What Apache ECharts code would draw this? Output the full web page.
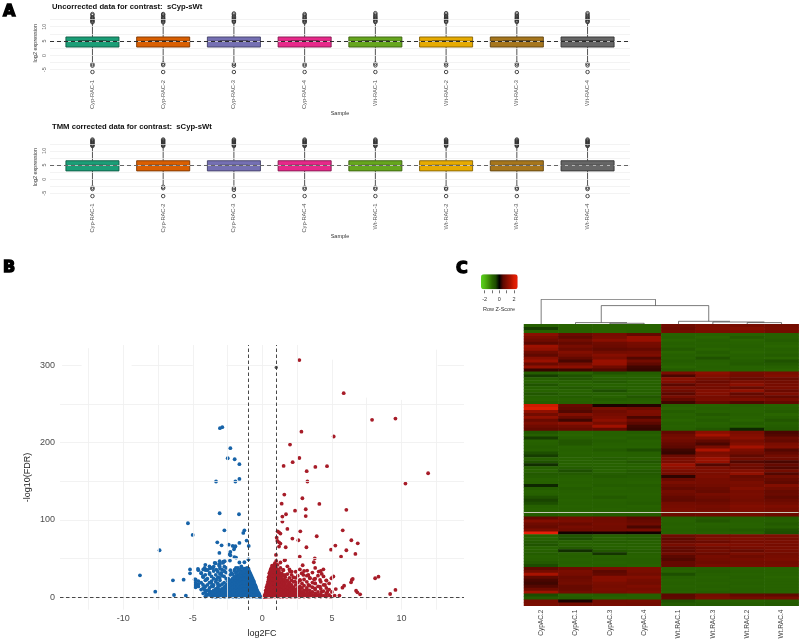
<!DOCTYPE html>
<html><head><meta charset="utf-8">
<style>html,body{margin:0;padding:0;background:#fff}#c{width:800px;height:639px}</style>
<script src="https://cdn.jsdelivr.net/npm/echarts@6/dist/echarts.min.js"></script>
</head><body><div id="c"></div>
<script>
var sampleLabels=['Cyp-RAC-1','Cyp-RAC-2','Cyp-RAC-3','Cyp-RAC-4','Wt-RAC-1','Wt-RAC-2','Wt-RAC-3','Wt-RAC-4'];
var sampleColors=['#1B9E77','#D95F02','#7570B3','#E7298A','#66A61E','#E6AB02','#A6761D','#666666'];
var sampleBorders=['#0e5a44','#7a3501','#423f66','#82174e','#39600f','#826001','#5d4210','#333333'];
// [low whisker, q1, median, q3, high whisker]
var boxesRaw=[[-2.7,2.9,4.95,6.4,11.4],[-2.6,2.9,4.95,6.4,11.4],[-2.7,2.9,4.95,6.4,11.5],[-2.7,2.9,4.95,6.4,11.4],[-2.6,2.9,4.95,6.4,11.4],[-2.6,2.9,4.95,6.4,11.4],[-2.6,2.9,4.95,6.4,11.5],[-2.6,2.9,4.95,6.4,11.4]];
var boxesTmm=[[-2.2,2.9,4.85,6.5,11.6],[-2.0,2.9,4.85,6.5,11.6],[-2.3,2.9,4.85,6.5,11.6],[-2.2,2.9,4.85,6.5,11.6],[-2.2,2.9,4.85,6.5,11.6],[-2.2,2.9,4.85,6.5,11.6],[-2.2,2.9,4.85,6.5,11.6],[-2.2,2.9,4.85,6.5,11.6]];
var outRaw=[
[11.5,11.8,12.1,12.4,12.7,13,13.3,14,14.4,-3.1,-3.6,-5.8],
[11.5,11.8,12.1,12.4,12.8,13.1,13.6,14.1,14.4,-2.9,-3.4,-5.8],
[11.6,11.9,12.2,12.5,12.8,13.2,13.6,14.2,14.6,-3.0,-3.6,-5.8],
[11.5,11.8,12.1,12.4,12.8,13.1,13.5,14,14.4,-3.1,-3.6,-5.8],
[11.6,11.9,12.2,12.6,12.9,13.3,13.7,14.2,14.7,-2.9,-3.5,-5.8],
[11.6,11.9,12.2,12.6,12.9,13.3,13.7,14.2,14.7,-2.9,-3.5,-5.8],
[11.6,11.9,12.2,12.6,12.9,13.3,13.7,14.2,14.7,-2.9,-3.5,-5.8],
[11.6,11.9,12.2,12.6,12.9,13.3,13.7,14.2,14.7,-2.9,-3.5,-5.8]];
var outTmm=[
[11.7,12,12.2,12.5,12.8,13.1,13.4,13.7,14,-3.0,-3.5,-6],
[11.7,12,12.2,12.5,12.8,13.1,13.4,13.7,14,-2.7,-3.2,-6],
[11.7,12,12.2,12.5,12.8,13.1,13.4,13.7,14,-3.2,-3.8,-6],
[11.7,12,12.2,12.5,12.8,13.1,13.4,13.7,14,-3.0,-3.5,-6],
[11.7,12,12.2,12.5,12.8,13.1,13.4,13.7,14,-3.0,-3.5,-6],
[11.7,12,12.2,12.5,12.8,13.1,13.4,13.7,14,-3.0,-3.5,-6],
[11.7,12,12.2,12.5,12.8,13.1,13.4,13.7,14,-3.0,-3.5,-6],
[11.7,12,12.2,12.5,12.8,13.1,13.4,13.7,14,-3.0,-3.5,-6]];
var boxYLabels=[-5,0,5,10];
var boxYLines=[-5,-2.5,0,2.5,5,7.5,10,12.5];

// Volcano: dense zone as [x,[y...]] columns
var blueColumns=[
[-0.12,[0.5]],[-0.2,[1,3]],[-0.3,[1,4,6]],[-0.4,[1,4,8,10]],[-0.5,[1,5,9,13,15]],[-0.6,[2,6,10,14,18,20]],[-0.7,[1,5,9,13,17,21,24]],[-0.8,[2,6,10,14,18,22,26,28]],[-0.9,[1,5,9,13,17,21,25,29,32]],[-1.0,[2,6,10,14,18,22,26,30,34,37]],[-1.1,[1,5,9,13,17,21,25,29,33,36,38]],[-1.2,[2,6,10,14,18,22,26,30,35,37]],[-1.3,[1,5,9,13,17,22,27,32,37]],
[-1.4,[2,6,11,15,20,25,30,34]],[-1.5,[1,4,8,13,18,23,28,33,38]],[-1.6,[3,7,11,16,21,26,30,35]],[-1.7,[1,5,10,14,19,24,29,36]],[-1.8,[3,8,12,17,22,27,33]],[-1.9,[1,5,10,15,20,25,31,38]],[-2.0,[3,7,12,17,22,27,34]],[-2.15,[1,5,10,15,20,24,30]],[-2.3,[3,7,12,17,22,29,35]],[-2.45,[1,5,9,14,18,24]],[-2.6,[3,7,11,16,24,32,38]],[-2.75,[1,5,9,13,19,27,34]],[-2.9,[3,7,11,17,28,36]],[-3.05,[1,5,9,15,22,30,37]],[-3.2,[3,8,13,18,26,33]],[-3.35,[1,6,11,20,29]],[-3.5,[4,9,16,24,34]],[-3.65,[2,7,14,21,27,38]],[-3.8,[5,12,19,30,40]],[-3.95,[3,9,16,24,35]],[-4.1,[1,7,14,22,29,42]],[-4.25,[5,12,26,36]],[-4.4,[10,19,31]],[-4.6,[14,17,21,35]],[-4.8,[13,16,19,23]]];
var blueFill=[
[-0.25,[2,5]],[-0.35,[2,6,8]],[-0.45,[3,7,11,13]],[-0.55,[3,7,11,15,17]],[-0.65,[3,7,11,15,19,22]],[-0.75,[3,7,11,15,19,23,26]],[-0.85,[3,7,11,15,19,23,27,30]],[-0.95,[3,7,11,15,19,23,27,31,34]],[-1.05,[3,7,11,15,19,23,27,31,35]],[-1.15,[3,7,11,15,19,23,27,31,35]],[-1.25,[3,7,11,15,19,24,29,34]],[-1.35,[3,7,11,15,19,24,29,33]],[-1.45,[3,7,11,15,20,25,30]],[-1.55,[3,6,10,14,19,24,28,32]],[-1.65,[1,5,9,13,18,23,28]],[-1.75,[3,7,12,17,21,26]],[-1.85,[1,5,10,14,19,24]],[-1.95,[3,8,12,17,23]],[-2.07,[1,5,9,14,19,25]],[-2.22,[3,7,12,17,22]],[-2.37,[1,5,10,15,20]],[-2.52,[3,7,11,16]],[-2.67,[1,5,9,14]],[-2.82,[3,7,11]],[-2.97,[1,5,9]],[-3.12,[3,6,10]],[-3.28,[1,5,9]],[-3.43,[3,7]],[-3.6,[1,5]],[-3.75,[3]]];
var redColumns=[
[0.1,[0.5]],[0.15,[2]],[0.2,[1,4]],[0.25,[2,6,9]],[0.3,[1,5,9,13]],[0.35,[2,7,12,16]],[0.4,[1,5,10,15,20]],[0.45,[3,8,13,18,23,26]],[0.5,[1,6,11,16,21,26,31]],[0.55,[3,8,13,18,23,28,33]],[0.6,[1,6,11,16,21,26,31,36]],[0.65,[3,8,13,18,23,28,33,38]],[0.7,[1,6,11,16,21,26,31,36,41]],[0.8,[3,8,13,18,23,28,33,38,41]],[0.9,[1,6,11,16,21,26,31,36,40,44]],[1.0,[3,8,13,18,23,28,33,37,42,47]],[1.1,[1,5,10,15,20,25,30,36,42]],[1.2,[3,8,13,18,23,28,34]],[1.3,[1,5,10,15,21,27,38,45]],[1.4,[3,8,13,18,24,31]],[1.5,[1,5,10,15,21,28,35]],[1.65,[3,8,13,19,26]],[1.8,[1,5,10,15,22,30,40]],[1.95,[3,8,13,19,25,36]],[2.1,[1,5,10,16,22,29]],[2.25,[3,8,13,20]],[2.4,[1,5,10,16,25,33]],[2.55,[3,7,12,19,28]],[2.7,[1,5,9,14,22,36]],[2.85,[3,7,12,18,31]],[3.0,[1,5,9,15,23,34]],[3.2,[3,7,12,20,28]],[3.4,[1,5,9,15,25]],[3.6,[3,7,13,19,32]],[3.8,[1,5,10,18,24,38]],[4.0,[3,7,14,28]],[4.2,[1,4,11,20,34]],[4.4,[2,8,16,27]],[4.6,[1,5,12,22]],[4.8,[3,10,18]],[5.0,[1,7]],[5.2,[2]]];
var redFill=[
[0.17,[1]],[0.22,[2]],[0.27,[1,4,7]],[0.32,[3,7,11]],[0.37,[4,9,14]],[0.42,[3,7,12,17]],[0.47,[5,10,15,20,24]],[0.52,[3,8,13,18,23,28]],[0.57,[5,10,15,20,25,30]],[0.62,[3,8,13,18,23,28,33]],[0.67,[5,10,15,20,25,30,35]],[0.75,[3,8,13,18,23,28,33,38]],[0.85,[3,8,13,18,23,28,33,38]],[0.95,[5,10,15,20,25,30,35]],[1.05,[3,6,12,17,22,27,32]],[1.15,[3,6,11,16,21,26]],[1.25,[1,5,10,15,20,25]],[1.35,[3,7,11,16,22]],[1.45,[1,5,10,14,19]],[1.57,[3,7,12,17,23]],[1.72,[1,5,9,14,20]],[1.87,[3,7,12,17]],[2.02,[1,5,10,15]],[2.17,[3,7,12]],[2.32,[1,5,10]],[2.47,[3,7]],[2.62,[1,5]],[2.8,[3]],[3.1,[3]],[3.3,[1,5]],[3.5,[3]],[3.9,[2]]];
var blueSparse=[[-2.88,219.8],[-3.05,218.5],[-2.3,192.7],[-2.49,179.7],[-1.99,178.4],[-1.65,172],[-1.65,153],[-1.94,149.6],[-3.33,149.6],[-3.07,108.6],[-1.68,107.3],[-5.35,95.7],[-5.01,80.6],[-2.73,86.6],[-1.29,86.6],[-1.37,83.2],[-1.13,73.3],[-3.24,71],[-2.42,68],[-1.65,70.3],[-2.93,67.2],[-2.13,66.4],[-1.94,66],[-2.04,62],[-1.99,64.7],[-0.98,66.4],[-7.39,60.8],[-3.09,57.3],[-2.3,58.6],[-2.35,55.6],[-2.3,54.3],[-2.01,52],[-1.89,51.3],[-1,49],[-2.33,47.4],[-2.81,46.1],[-3.05,43.5],[-3.36,44],[-3.12,41.8],[-3.5,39.7],[-3.77,37.5],[-4.1,35.3],[-4.63,36.6],[-5.2,36],[-5.2,31],[-8.8,28.4],[-7.7,7.3],[-6.43,22],[-5.66,22.8],[-6.35,3],[-5.5,2],[-2.73,39.7],[-1.65,45],[-1.29,45.3],[-4.15,38],[-4.87,23],[-4.75,14],[-4.0,4],[-3.4,1],
[-4.27,27.2],[-4.03,22.8],[-3.79,31.5],[-3.55,37.9],[-3.31,35.8],[-3.07,40],[-2.83,44.4],[-2.71,46.6],[-3.07,46.6],[-3.43,44.4],[-3.67,18.5],[-3.55,14],[-3.31,22.8],[-3.07,25],[-2.95,31.5],[-2.71,33.6],[-2.47,20.7],[-2.23,31.5],[-1.99,35.8],[-1.75,38],[-1.51,40],[-1.27,33.6],[-3.19,16.3],[-3.79,7.8],[-4.15,10],[-4.27,16.3],[-4.39,31.5],[-4.03,35.8]];
var redSparse=[[2.66,306.5],[5.85,263.8],[7.89,229.3],[9.57,231],[2.81,214],[5.13,207.8],[1.99,197.4],[2.66,180],[2.18,174.6],[1.53,169.8],[3.81,168.5],[4.65,169.4],[3.19,163],[11.92,160.3],[3.24,149.6],[10.29,147],[1.58,132.8],[2.88,128],[1.39,121],[4.1,120.7],[3.12,113.8],[2.35,112],[6.04,113],[1.7,107.3],[1.44,104.3],[3.12,105],[1.44,97.8],[1.8,88.4],[2.73,85.3],[5.78,86.6],[1.1,85.3],[1.2,84],[1.3,82.3],[1.03,77],[3.91,78.9],[2.16,75.9],[2.59,73.7],[6.4,73.7],[6.86,69.8],[1.08,72.8],[1.2,71],[1.3,69.4],[1.2,65.5],[1.68,64.7],[3.17,64.7],[5.25,66.8],[4.94,61.6],[6.04,60.8],[6.69,56],[5.66,52.6],[2.69,52.6],[0.98,54.7],[3.77,50.4],[1.63,48.3],[1.6,47.9],[3.7,45.3],[2.9,41.4],[4.05,33.2],[4.39,36.2],[3.22,34.5],[4.27,30.2],[8.35,26.7],[8.11,24.6],[5.11,27],[4.97,24.6],[4.6,21.6],[6.43,22.4],[6.5,23.7],[6.38,19.4],[5.88,15],[5.76,12.5],[5.28,10.7],[9.57,9.5],[9.19,4.3],[6.74,8.6],[6.83,6.5],[7.03,3.9],[5.54,2.2],
[1.51,35.3],[1.99,33.2],[2.11,33.2],[1.27,31],[1.63,28.9],[2.23,25.9],[2.95,28.9],[2.83,31],[3.31,28.9],[3.43,24.6],[2.71,22.4],[2.35,20.3],[3.72,23.3],[4.15,22.4],[3.79,18.1],[4.15,13.8],[4.51,15.9],[4.27,7.3],[4.68,7.3],[3.79,11.6],[3.31,15.9],[2.71,11.6],[3.19,9.5],[4.87,0.9],[3.79,2.2],[4.03,2.2],[3.43,1.7]];
var greyMark=[[1,297]];
var volXLabels=[-10,-5,0,5,10];
var volYLabels=[0,100,200,300];
var volYLines=[0,50,100,150,200,250];
var volXLines=[-12.5,-10,-7.5,-5,-2.5,0,2.5,5,7.5,10,12.5];
// top of each vertical grid line in data units (parts of the grid are washed out in the picture)
var volXTops=[322,326,326,326,326,326,326,307,258,255,320];
// surviving pieces of the washed-out 300 line
var vol300Pieces=[[-14.4,-13],[-9.4,-5],[-2.6,1.2],[12.6,14.5]];

var heatCols=['CypAC.2','CypAC.1','CypAC.3','CypAC.4','Wt.RAC.1','Wt.RAC.3','Wt.RAC.2','Wt.RAC.4'];
var heatRows=[
[-.85,-.9,-.9,-.9,.75,.9,.85,.8],[-.4,-.85,-.9,-.9,.7,.95,1,.85],[-.9,-.9,-.95,-.9,.8,.9,.95,.8],
[1.1,.7,.85,.6,-.9,-.9,-.9,-.85],[.9,.55,.9,1.3,-.85,-.95,-.75,-.85],[.75,.8,1.1,1.3,-.95,-.85,-.95,-.8],[.5,.6,.75,.85,-.85,-.9,-.9,-.9],[1.35,.85,.7,.8,-.9,-.85,-.85,-.95],[1.2,.7,.55,.6,-.75,-.95,-.9,-.85],[.75,1,.8,.85,-.95,-.8,-.95,-.9],[.55,.85,1.05,.95,-.85,-.9,-.85,-.8],[1.05,.6,.9,.45,-.9,-.6,-.9,-.95],[1.3,.4,1.3,.8,-.8,-.85,-.8,-.6],[.7,.85,1.25,.55,-.85,-.9,-.75,-.75],[1.2,1.15,.75,.35,-.95,-.85,-.9,-.85],[.3,.35,.45,.3,-.8,-.9,-.9,-.95],
[-.8,-.9,-.65,-.8,.9,1.15,.85,.9],[-.4,-.6,-.9,-.9,.4,1,.8,1],[-.85,-.7,-.85,-.85,1.1,.85,.65,.7],[-.9,-.85,-.75,-.9,.95,.7,.9,.8],[-.65,-.9,-.9,-.85,.5,.85,1.1,.85],[-.85,-.75,-.85,-.9,.9,.8,.65,.9],[-.9,-.9,-.55,-.85,.75,1,1.2,.7],[-.7,-.85,-.85,-.9,.5,1,.6,.95],[-.85,-.8,-.9,-.7,.85,.85,.75,.6],[-.9,-.9,-.8,-.85,.6,.9,.95,.85],[-.8,-.85,-.9,-.9,.35,.6,.45,.6],
[1.9,.65,.15,.2,-.9,-.9,-.85,-.9],[2.1,.55,.9,.75,-.95,-.85,-.9,-.85],[1.2,.45,.75,.95,-.8,-.9,-.9,-.8],[.8,1,.85,.9,-.9,-.75,-.85,-.95],[1.2,.7,.95,.4,-.85,-.9,-.9,-.85],[.7,.35,1.15,.75,-.95,-.8,-.95,-.7],[.95,1.1,.85,.5,-.85,-.9,-.8,-.85],[.75,.8,1.4,.35,-.9,-.85,-.9,-.8],[.6,.65,.6,.3,-.85,-.7,-.25,-.75],
[-.7,-.9,-.85,-.8,.55,1.1,.9,.4],[-.85,-.95,-.85,-.9,.75,1.45,1,.45],[-.4,-.85,-.9,-.8,.85,.95,1.1,.7],[-.9,-.7,-.8,-.9,.75,.55,.85,.6],[-.85,-.7,-.85,-.85,.6,.4,1,.9],[-.8,-.9,-.9,-.9,.5,.85,1.45,1],[-.85,-.85,-.75,-.55,.35,1.55,.95,.45],[-.55,-.9,-.9,-.85,.3,.9,.8,.6],[-.4,-.85,-.9,-.85,.7,1,.55,.8],[-.85,-.9,-.8,-.9,.95,1.35,.8,.75],[-.6,-.85,-.85,-.7,.85,1.25,.45,.4],[-.3,-.9,-.9,-.85,1.3,.45,.8,.6],[-.85,-.8,-.85,-.9,1.1,.9,.7,.45],[-.9,-.55,-.9,-.75,.9,.95,1,.8],[-.75,-.75,-.8,-.75,.8,.9,1.2,.45],[-.8,-.85,-.75,-.8,.25,.95,.65,.8],[-.9,-.9,-.85,-.85,.7,.85,.75,.65],[-.85,-.85,-.85,-.9,.9,.85,.9,.55],[-.25,-.9,-.8,-.8,.75,.8,.85,1],[-.8,-.8,-.9,-.85,.6,.7,1,.8],[-.9,-.85,-.85,-.85,.8,.65,.85,.65],[-.85,-.9,-.9,-.9,.75,.85,.9,.7],[-.6,-.85,-.75,-.85,.6,.75,.85,.55],[-.45,-.9,-.9,-.85,.55,.65,.8,.7],[-.55,-.85,-.85,-.8,.8,.75,.9,.8],[-.85,-.9,-.85,-.9,.85,.85,1,.95],[-.9,-.85,-.9,-.85,.9,.8,.95,.85],[-.85,-.9,-.85,-.85,.85,.9,.9,.85],[-.8,-.85,-.8,-.8,.7,.75,.8,.7],
[.6,.8,.75,.5,-.85,-.8,-.85,-.8],[1,.9,.8,.65,-.9,-.7,-.85,-.85],[.75,.7,.85,.75,-.85,-.9,-.9,-.75],[.65,.85,.8,.4,-.9,-.85,-.9,-.85],[.9,.75,.8,.85,-.85,-.8,-.75,-.6],[2.4,.1,.12,.08,-.9,-.85,-.85,-.55],
[-.85,-.65,-.85,-.85,.75,.85,.9,.95],[-.9,-.55,-.9,-.8,.55,.9,.95,.85],[-.75,-.85,-.8,-.85,.65,.7,.85,.9],[-.65,-.9,-.9,-.85,.85,1,.95,.85],[-.9,-.75,-.85,-.9,.6,.75,.85,.9],[-.85,-.3,-.7,-.8,.55,.8,.65,.85],[-.8,-.9,-.35,-.85,.75,.7,.9,.8],[-.9,-.85,-.9,-.9,.5,.85,.75,.85],[-.85,-.9,-.85,-.85,.45,.8,.85,.9],[-.75,-.85,-.9,-.85,.6,.75,.8,.8],[-.5,-.9,-.85,-.9,.6,.85,.85,.85],
[.55,.75,.9,.95,-.85,-.85,-.9,-.9],[.8,.9,.5,.9,-.9,-.8,-.85,-.9],[1.5,.85,.6,.8,-.55,-.85,-.9,-.9],[.55,.7,1.05,1,-.85,-.9,-.85,-.95],[.4,.75,1.05,.85,-.9,-.85,-.9,-.9],[.35,.8,.9,.8,-.85,-.9,-.85,-.9],[.45,.65,.85,.95,-.9,-.85,-.9,-.9],[.75,.65,.9,.85,-.85,-.9,-.85,-.9],[1.4,.8,.85,.95,-.9,-.8,-.85,-.9],
[-.5,-.85,-.8,-.85,.5,.8,.6,.55],[-.75,-.8,-.9,-.85,.55,.9,.8,.85],
[.85,.15,.8,.85,-.6,-.8,-.85,-.8],[.9,.8,.85,.8,-.75,-.75,-.8,-.75]];
var dendroSegments=[[0.5,25,3.83,25],[0.5,25,0.5,0],[3.83,25,3.83,18.7],[2.25,18.7,5.38,18.7],[2.25,18.7,2.25,1.7],[5.38,18.7,5.38,3],[1.5,1.7,3,1.7],[1.5,1.7,1.5,0],[3,1.7,3,1],[2.5,1,3.5,1],[2.5,1,2.5,0],[3.5,1,3.5,0],[4.5,3,6,3],[4.5,3,4.5,0],[6,3,6,2.3],[5.5,2.3,7,2.3],[5.5,2.3,5.5,0],[7,2.3,7,1.7],[6.5,1.7,7.5,1.7],[6.5,1.7,6.5,0],[7.5,1.7,7.5,0]];
var keyTicks=[-2,-1,0,1,2];
var keyLabels=[-2,0,2];

var FF='"Liberation Sans",Arial,sans-serif';
var sampleTicks=[1,2,3,4,5,6,7,8];

function boxSeries(g,vals){
  return {type:'custom',xAxisIndex:g,yAxisIndex:g,z:2,silent:true,clip:false,
    encode:{x:0,y:[1,2,3,4,5]},
    data:vals.map(function(b,i){return [i+1].concat(b);}),
    renderItem:function(p,api){
      var x=api.value(0),c=api.coord,hw=api.size([0.75,0])[0]/2,
        lo=c([x,api.value(1)]),q1=c([x,api.value(2)]),m=c([x,api.value(3)]),q3=c([x,api.value(4)]),hi=c([x,api.value(5)]);
      var col=sampleColors[p.dataIndex],dark=sampleBorders[p.dataIndex];
      return {type:'group',children:[
        {type:'line',shape:{x1:lo[0],y1:lo[1],x2:lo[0],y2:q1[1]},style:{stroke:'#555',lineWidth:1}},
        {type:'line',shape:{x1:hi[0],y1:hi[1],x2:hi[0],y2:q3[1]},style:{stroke:'#555',lineWidth:1}},
        {type:'rect',shape:{x:q3[0]-hw,y:q3[1],width:hw*2,height:q1[1]-q3[1]},style:{fill:col,stroke:dark,lineWidth:0.9}},
        {type:'line',shape:{x1:m[0]-hw,y1:m[1],x2:m[0]+hw,y2:m[1]},style:{stroke:dark,lineWidth:0.8}},
        {type:'line',shape:{x1:m[0]-14,y1:m[1],x2:m[0]+14,y2:m[1]},style:{stroke:'#222',lineWidth:1.1}}
      ]};
    }};
}
function outSeries(g,outs,dashColor,dashW,dashT){
  var pts=[];outs.forEach(function(a,i){a.forEach(function(v){pts.push([i+1,v]);});});
  return {type:'scatter',xAxisIndex:g,yAxisIndex:g,z:4,silent:true,symbol:'circle',symbolSize:3.5,
    itemStyle:{color:'rgba(255,255,255,0)',borderColor:'#333',borderWidth:0.9,opacity:1},data:pts,
    markLine:{silent:true,symbol:'none',animation:false,label:{show:false},
      lineStyle:{color:dashColor,width:dashW,type:dashT},data:[{yAxis:5}]}};
}
function gridLineSeries(g,ys){
  return {type:'line',xAxisIndex:g,yAxisIndex:g,z:1,silent:true,data:[],showSymbol:false,
    markLine:{silent:true,symbol:'none',animation:false,label:{show:false},
      lineStyle:{color:'#eeeeee',width:0.7,type:'solid'},
      data:ys.map(function(v){return {yAxis:v};})}};
}
function boxXAxis(g){
  return {gridIndex:g,type:'value',min:0.4,max:8.6,axisLine:{show:false},axisTick:{show:false},splitLine:{show:false},
    name:'Sample',nameLocation:'middle',nameGap:36,nameMoveOverlap:false,nameTextStyle:{fontSize:5.5,color:'#333',fontFamily:FF},
    axisLabel:{customValues:sampleTicks,rotate:90,margin:6,fontSize:5.7,color:'#555',fontFamily:FF,
      formatter:function(v){return sampleLabels[v-1]||'';}}};
}
function boxYAxis(g,lo,hi){
  return {gridIndex:g,type:'value',min:lo,max:hi,axisLine:{show:false},axisTick:{show:false},splitLine:{show:false},
    name:'log2 expression',nameLocation:'middle',nameGap:12,nameMoveOverlap:false,nameRotate:90,nameTextStyle:{fontSize:5.5,color:'#333',fontFamily:FF},
    axisLabel:{customValues:boxYLabels,rotate:90,margin:3,fontSize:5.5,color:'#666',fontFamily:FF}};
}
var blueAll=blueSparse.slice(),redAll=redSparse.slice();
blueColumns.concat(blueFill).forEach(function(c){c[1].forEach(function(y){blueAll.push([c[0],y]);});});
redColumns.concat(redFill).forEach(function(c){c[1].forEach(function(y){redAll.push([c[0],y]);});});
var heatData=[];heatRows.forEach(function(r,j){r.forEach(function(v,i){heatData.push([i,j,v]);});});
var dendroData=[];dendroSegments.forEach(function(s){dendroData.push([s[0],s[1]],[s[2],s[3]],[null,null]);});
var volVert=volXLines.map(function(x,i){return [{coord:[x,-16]},{coord:[x,volXTops[i]]}];});
var vol300=vol300Pieces.map(function(p){return [{coord:[p[0],300]},{coord:[p[1],300]}];});

var labelStyle={fontFamily:'"DejaVu Sans",sans-serif',fontWeight:'bold',fontSize:16,color:'#000',textBorderColor:'#000',textBorderWidth:1.4};
var option={animation:false,backgroundColor:'#fff',
 title:[
  {text:'A',left:3,top:4,textStyle:labelStyle,padding:0},
  {text:'B',left:3,top:260,textStyle:labelStyle,padding:0},
  {text:'C',left:456,top:261,textStyle:labelStyle,padding:0},
  {text:'Uncorrected data for contrast:  sCyp-sWt',left:52,top:3,padding:0,textStyle:{fontFamily:FF,fontWeight:'bold',fontSize:7.7,color:'#111'}},
  {text:'TMM corrected data for contrast:  sCyp-sWt',left:52,top:123,padding:0,textStyle:{fontFamily:FF,fontWeight:'bold',fontSize:7.7,color:'#111'}},
  {text:'Row Z-Score',left:499,top:306,textAlign:'center',padding:0,textStyle:{fontFamily:FF,fontWeight:'normal',fontSize:5.5,color:'#333'}}
 ],
 grid:[
  {left:50,width:580,top:12.3,height:61.7,outerBoundsMode:'none'},
  {left:50,width:580,top:136.7,height:60.8,outerBoundsMode:'none'},
  {left:60,width:404,top:345,height:265,outerBoundsMode:'none'},
  {left:524,width:274.7,top:324.3,height:281.4,outerBoundsMode:'none'},
  {left:524,width:274.7,top:299.3,height:25,outerBoundsMode:'none'},
  {left:481,width:36.7,top:289.3,height:1,outerBoundsMode:'none'}
 ],
 visualMap:{type:'continuous',seriesIndex:[11],min:-2.5,max:2.5,show:true,orient:'horizontal',left:481,top:274.3,padding:0,
   itemWidth:15,itemHeight:36.7,calculable:false,realtime:false,text:null,showLabel:false,hoverLink:false,
   inRange:{color:['#5ad21e','#50b812','#3f9208','#2a6800','#1c4c00','#000000','#5c0800','#820e00','#a81200','#d81c00','#eb200a']}},
 xAxis:[boxXAxis(0),boxXAxis(1),
  {gridIndex:2,type:'value',min:-14.55,max:14.5,axisLine:{show:false},axisTick:{show:false},splitLine:{show:false},
   name:'log2FC',nameLocation:'middle',nameGap:19,nameMoveOverlap:false,nameTextStyle:{fontSize:9,color:'#222',fontFamily:FF},
   axisLabel:{customValues:volXLabels,margin:4,fontSize:9,color:'#4d4d4d',fontFamily:FF}},
  {gridIndex:3,type:'category',data:heatCols,axisLine:{show:false},axisTick:{show:false},splitLine:{show:false},
   axisLabel:{rotate:90,margin:4,fontSize:6.5,color:'#444',fontFamily:FF,interval:0}},
  {gridIndex:4,type:'value',min:0,max:8,show:false},
  {gridIndex:5,type:'value',min:-2.5,max:2.5,axisLine:{show:false},splitLine:{show:false},
   axisTick:{customValues:keyTicks,length:3,inside:false,lineStyle:{color:'#333',width:0.7}},
   axisLabel:{customValues:keyLabels,margin:6,fontSize:5.5,color:'#333',fontFamily:FF}}
 ],
 yAxis:[boxYAxis(0,-6.5,15),boxYAxis(1,-6.5,15),
  {gridIndex:2,type:'value',min:-16.4,max:326,axisLine:{show:false},axisTick:{show:false},splitLine:{show:false},
   name:'-log10(FDR)',nameLocation:'middle',nameGap:28,nameMoveOverlap:false,nameRotate:90,nameTextStyle:{fontSize:9,color:'#222',fontFamily:FF},
   axisLabel:{customValues:volYLabels,margin:5,fontSize:9,color:'#4d4d4d',fontFamily:FF}},
  {gridIndex:3,type:'category',inverse:true,data:heatRows.map(function(_,i){return 'r'+i;}),show:false},
  {gridIndex:4,type:'value',min:0,max:25,show:false},
  {gridIndex:5,type:'value',min:0,max:1,show:false}
 ],
 series:[
  gridLineSeries(0,boxYLines),            //0
  boxSeries(0,boxesRaw),                  //1
  outSeries(0,outRaw,'#1a1a1a',0.9,[4,3]),//2
  gridLineSeries(1,boxYLines),            //3
  boxSeries(1,boxesTmm),                  //4
  outSeries(1,outTmm,'#666',1.2,[4,3]),   //5
  {type:'line',xAxisIndex:2,yAxisIndex:2,z:1,silent:true,data:[],
   markLine:{silent:true,symbol:'none',animation:false,label:{show:false},
     lineStyle:{color:'#efefef',width:0.8,type:'solid'},
     data:volYLines.map(function(v){return {yAxis:v};}).concat(volVert,vol300)}}, //6
  {type:'scatter',xAxisIndex:2,yAxisIndex:2,z:3,silent:true,symbolSize:3.8,itemStyle:{color:'#1763a8',opacity:1},data:blueAll}, //7
  {type:'scatter',xAxisIndex:2,yAxisIndex:2,z:3,silent:true,symbolSize:3.8,itemStyle:{color:'#a71c28',opacity:1},data:redAll},  //8
  {type:'scatter',xAxisIndex:2,yAxisIndex:2,z:3,silent:true,symbolSize:3.4,itemStyle:{color:'#555',opacity:1},data:greyMark},   //9
  {type:'line',xAxisIndex:2,yAxisIndex:2,z:5,silent:true,data:[],
   markLine:{silent:true,symbol:'none',animation:false,label:{show:false},
     lineStyle:{color:'#333',width:0.9,type:[3.5,2.5]},
     data:[{xAxis:-1},{xAxis:1},{yAxis:0}]}}, //10
  {type:'heatmap',xAxisIndex:3,yAxisIndex:3,silent:true,data:heatData,progressive:0,
   markLine:{silent:true,symbol:'none',animation:false,label:{show:false},
     lineStyle:{color:'#c9c9b8',width:1,type:'solid'},data:[{yAxis:'r63'}]}}, //11
  {type:'line',xAxisIndex:4,yAxisIndex:4,silent:true,showSymbol:false,connectNulls:false,
   lineStyle:{color:'#444',width:0.7},data:dendroData}, //12
  {type:'line',xAxisIndex:5,yAxisIndex:5,silent:true,data:[]} //13
 ]};
var chart=echarts.init(document.getElementById('c'),null,{renderer:'canvas'});
chart.setOption(option);
</script></body></html>
